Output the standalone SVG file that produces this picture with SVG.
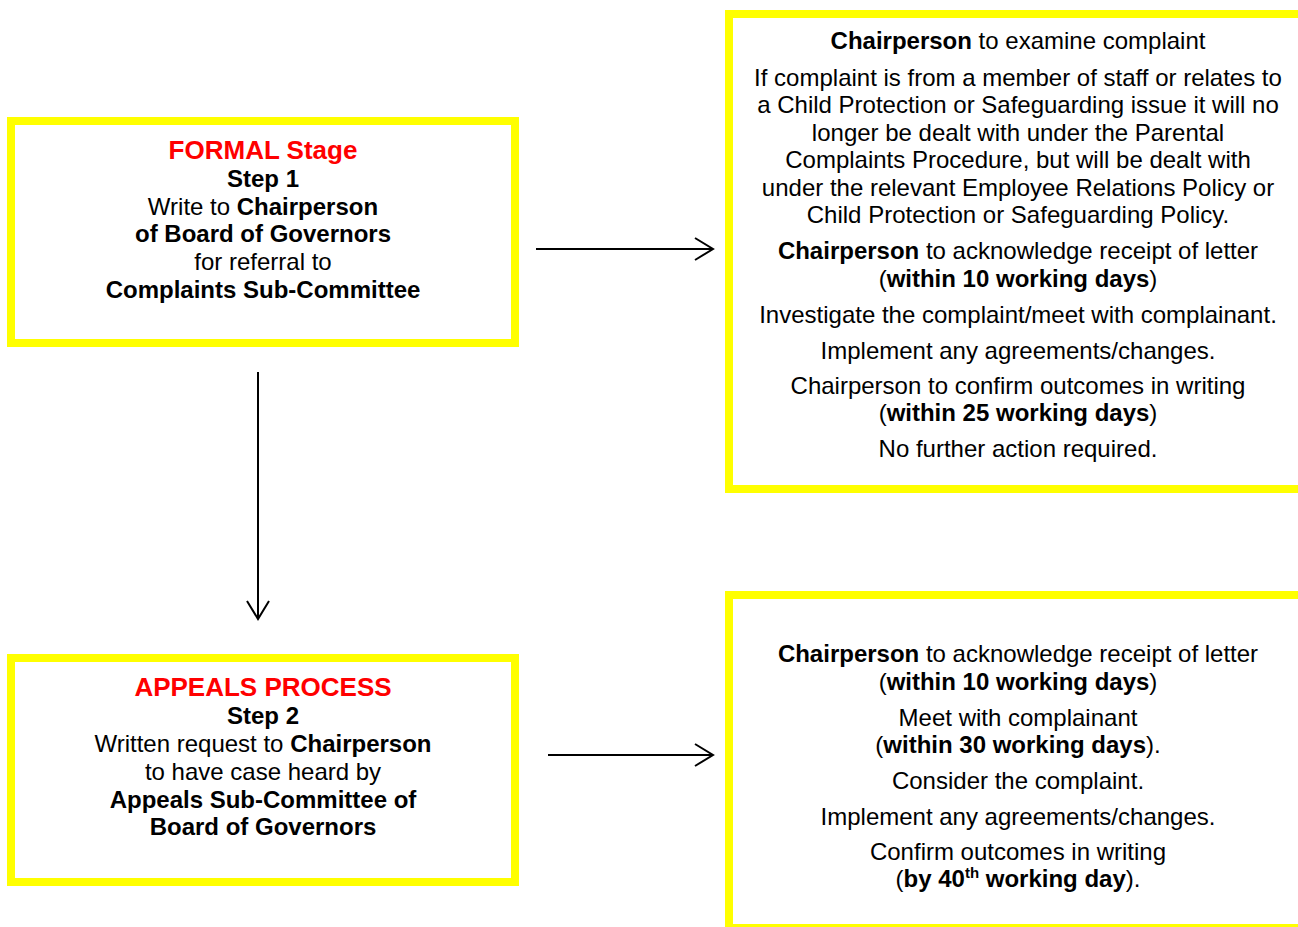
<svg xmlns="http://www.w3.org/2000/svg" width="1298" height="927" viewBox="0 0 1298 927">
<style>
.box{fill:#fff;stroke:#ffff00;stroke-width:8}
text{font-family:"Liberation Sans",Arial,sans-serif;font-size:24px;fill:#000;text-anchor:middle}
.h{font-size:26px;font-weight:bold;fill:#ff0000}
.b{font-weight:bold}
.conn{stroke:#000;stroke-width:2;fill:none}
</style>
<defs>
<marker id="arr" markerUnits="userSpaceOnUse" markerWidth="40" markerHeight="40" viewBox="-20 -20 40 40" refX="0" refY="0" orient="auto" overflow="visible">
<path d="M-18,-11 L0,0 L-18,11" fill="none" stroke="#000" stroke-width="2"/>
</marker>
</defs>
<rect width="1298" height="927" fill="#fff"/>
<g id="connectors">
<line class="conn" x1="536" y1="249" x2="713" y2="249" marker-end="url(#arr)"/>
<line class="conn" x1="548" y1="755" x2="713" y2="755" marker-end="url(#arr)"/>
<line class="conn" x1="258" y1="372" x2="258" y2="619" marker-end="url(#arr)"/>
</g>
<g id="formal">
<rect class="box" x="11" y="121" width="504" height="222"/>
<text x="263" y="159" class="h">FORMAL Stage</text>
<text x="263" y="187" class="b">Step 1</text>
<text x="263" y="215">Write to <tspan class="b">Chairperson</tspan></text>
<text x="263" y="242" class="b">of Board of Governors</text>
<text x="263" y="270">for referral to</text>
<text x="263" y="298" class="b">Complaints Sub-Committee</text>
</g>
<g id="examine">
<rect class="box" x="729" y="14" width="600" height="475"/>
<text x="1018" y="49">
<tspan class="b">Chairperson</tspan> to examine complaint</text>
<text x="1018" y="85.5">If complaint is from a member of staff or relates to</text>
<text x="1018" y="113">a Child Protection or Safeguarding issue it will no</text>
<text x="1018" y="140.5">longer be dealt with under the Parental</text>
<text x="1018" y="168">Complaints Procedure, but will be dealt with</text>
<text x="1018" y="195.5">under the relevant Employee Relations Policy or</text>
<text x="1018" y="223">Child Protection or Safeguarding Policy.</text>
<text x="1018" y="258.5"><tspan class="b">Chairperson</tspan> to acknowledge receipt of letter</text>
<text x="1018" y="286.5">(<tspan class="b">within 10 working days</tspan>)</text>
<text x="1018" y="322.5">Investigate the complaint/meet with complainant.</text>
<text x="1018" y="358.5">Implement any agreements/changes.</text>
<text x="1018" y="393.5">Chairperson to confirm outcomes in writing</text>
<text x="1018" y="421">(<tspan class="b">within 25 working days</tspan>)</text>
<text x="1018" y="456.5">No further action required.</text>
</g>
<g id="appeals">
<rect class="box" x="11" y="658" width="504" height="224"/>
<text x="263" y="696" class="h">APPEALS PROCESS</text>
<text x="263" y="724" class="b">Step 2</text>
<text x="263" y="752">Written request to <tspan class="b">Chairperson</tspan></text>
<text x="263" y="780">to have case heard by</text>
<text x="263" y="808" class="b">Appeals Sub-Committee of</text>
<text x="263" y="835" class="b">Board of Governors</text>
</g>
<g id="appeal-steps">
<rect class="box" x="729" y="595" width="600" height="333"/>
<text x="1018" y="661.5"><tspan class="b">Chairperson</tspan> to acknowledge receipt of letter</text>
<text x="1018" y="689.5">(<tspan class="b">within 10 working days</tspan>)</text>
<text x="1018" y="725.5">Meet with complainant</text>
<text x="1018" y="752.5">(<tspan class="b">within 30 working days</tspan>).</text>
<text x="1018" y="788.5">Consider the complaint.</text>
<text x="1018" y="824.5">Implement any agreements/changes.</text>
<text x="1018" y="859.5">Confirm outcomes in writing</text>
<text x="1018" y="887">(<tspan class="b">by 40</tspan><tspan class="b" font-size="15" dy="-9">th</tspan><tspan class="b" dy="9"> working day</tspan>).</text>
</g>
</svg>
